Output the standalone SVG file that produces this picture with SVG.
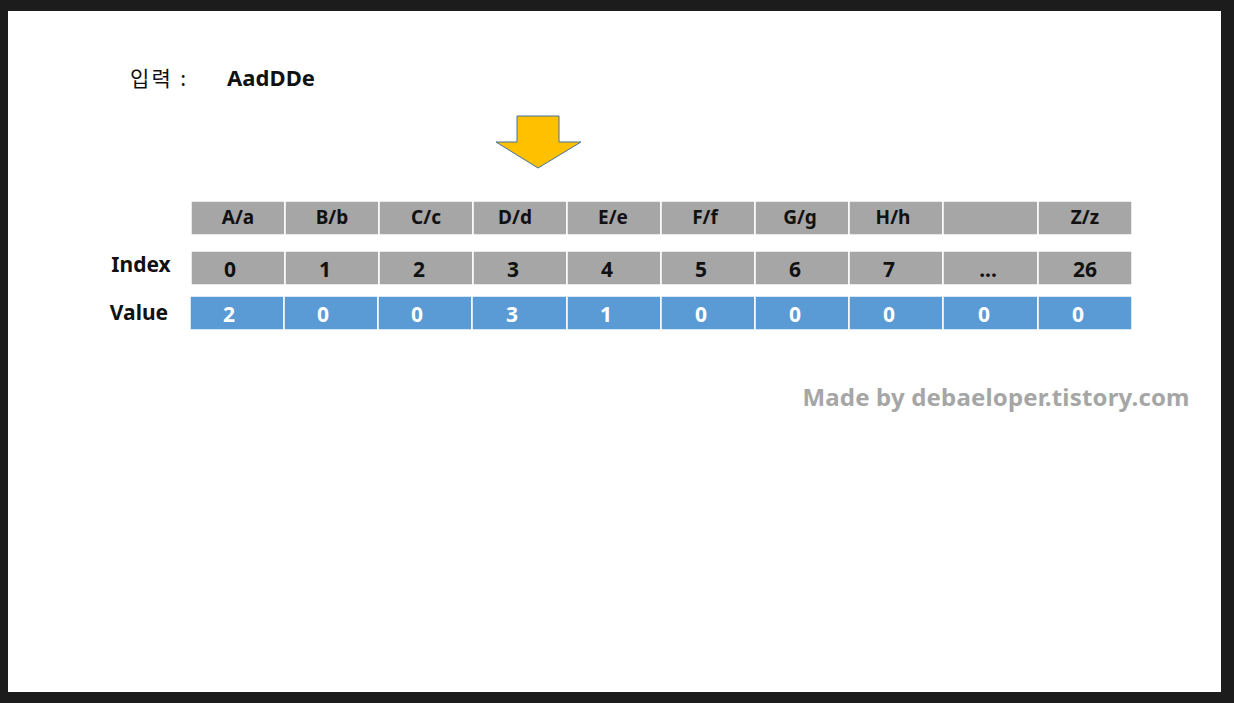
<svg xmlns="http://www.w3.org/2000/svg" width="1234" height="703" viewBox="0 0 1234 703">
<style>
.t{font-family:"Noto Sans","Noto Sans CJK KR",sans-serif;font-weight:bold;text-anchor:middle}
.h{font-size:19px;fill:#111}
.i{font-size:21px;fill:#111}
.v{font-size:21px;fill:#fff}
.g{fill:#a6a6a6;stroke:#fff;stroke-width:1.5}
.b{fill:#5b9bd5;stroke:#fff;stroke-width:1.5}
</style>
<rect x="0" y="0" width="1234" height="703" fill="#1c1c1c"/>
<rect x="8" y="11" width="1213" height="681" fill="#fff"/>
<g id="input">
<text x="130" y="86" font-family="Noto Sans CJK KR,sans-serif" font-size="21" fill="#111" textLength="56">입력 :</text>
<text x="227" y="86" font-family="Noto Sans,Noto Sans CJK KR,sans-serif" font-weight="bold" font-size="22" fill="#111" textLength="88">AadDDe</text>
</g>
<g id="arrow">
<path d="M517,116 H559 V142 H581 L538,168 L496,142 H517 Z" fill="#ffc000" stroke="#41719c" stroke-width="1"/>
</g>
<g id="labels">
<text class="t i" x="141" y="272">Index</text>
<text class="t i" x="139" y="320">Value</text>
</g>
<g id="header">
<rect class="g" x="191" y="201" width="94" height="34"/><text class="t h" x="238" y="224">A/a</text>
<rect class="g" x="285" y="201" width="94" height="34"/><text class="t h" x="332" y="224">B/b</text>
<rect class="g" x="379" y="201" width="94" height="34"/><text class="t h" x="426" y="224">C/c</text>
<rect class="g" x="473" y="201" width="94" height="34"/><text class="t h" x="515" y="224">D/d</text>
<rect class="g" x="567" y="201" width="94" height="34"/><text class="t h" x="613" y="224">E/e</text>
<rect class="g" x="661" y="201" width="94" height="34"/><text class="t h" x="705" y="224">F/f</text>
<rect class="g" x="755" y="201" width="94" height="34"/><text class="t h" x="800" y="224">G/g</text>
<rect class="g" x="849" y="201" width="94" height="34"/><text class="t h" x="893" y="224">H/h</text>
<rect class="g" x="943" y="201" width="95" height="34"/>
<rect class="g" x="1038" y="201" width="94" height="34"/><text class="t h" x="1085" y="224">Z/z</text>
</g>
<g id="index">
<rect class="g" x="191" y="251" width="94" height="34"/><text class="t i" x="230" y="277">0</text>
<rect class="g" x="285" y="251" width="94" height="34"/><text class="t i" x="325" y="277">1</text>
<rect class="g" x="379" y="251" width="94" height="34"/><text class="t i" x="419" y="277">2</text>
<rect class="g" x="473" y="251" width="94" height="34"/><text class="t i" x="513" y="277">3</text>
<rect class="g" x="567" y="251" width="94" height="34"/><text class="t i" x="607" y="277">4</text>
<rect class="g" x="661" y="251" width="94" height="34"/><text class="t i" x="701" y="277">5</text>
<rect class="g" x="755" y="251" width="94" height="34"/><text class="t i" x="795" y="277">6</text>
<rect class="g" x="849" y="251" width="94" height="34"/><text class="t i" x="889" y="277">7</text>
<rect class="g" x="943" y="251" width="95" height="34"/><text class="t i" x="988" y="277">...</text>
<rect class="g" x="1038" y="251" width="94" height="34"/><text class="t i" x="1085" y="277">26</text>
</g>
<g id="value">
<rect class="b" x="190" y="296" width="94" height="34"/><text class="t v" x="229" y="322">2</text>
<rect class="b" x="284" y="296" width="94" height="34"/><text class="t v" x="323" y="322">0</text>
<rect class="b" x="378" y="296" width="94" height="34"/><text class="t v" x="417" y="322">0</text>
<rect class="b" x="472" y="296" width="95" height="34"/><text class="t v" x="512" y="322">3</text>
<rect class="b" x="567" y="296" width="94" height="34"/><text class="t v" x="606" y="322">1</text>
<rect class="b" x="661" y="296" width="94" height="34"/><text class="t v" x="701" y="322">0</text>
<rect class="b" x="755" y="296" width="94" height="34"/><text class="t v" x="795" y="322">0</text>
<rect class="b" x="849" y="296" width="94" height="34"/><text class="t v" x="889" y="322">0</text>
<rect class="b" x="943" y="296" width="95" height="34"/><text class="t v" x="984" y="322">0</text>
<rect class="b" x="1038" y="296" width="94" height="34"/><text class="t v" x="1078" y="322">0</text>
</g>
<g id="credit">
<text x="996" y="406" font-family="Noto Sans,Noto Sans CJK KR,sans-serif" font-weight="bold" font-size="24" fill="#a6a6a6" text-anchor="middle" textLength="387">Made by debaeloper.tistory.com</text>
</g>
</svg>
